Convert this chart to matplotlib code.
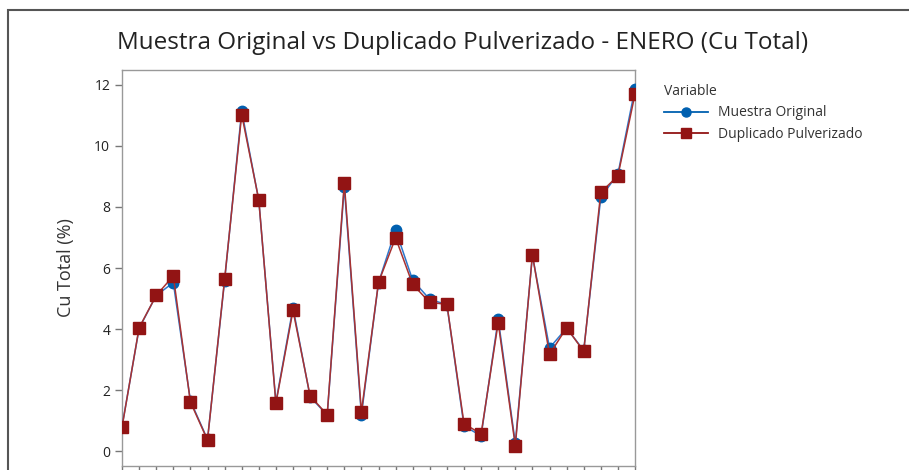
import numpy as np
import matplotlib.pyplot as plt
from matplotlib.lines import Line2D
from matplotlib.patches import Rectangle

plt.rcParams['font.family'] = ['Open Sans', 'DejaVu Sans']

# Data (31 samples, January)
muestra = [0.80, 4.02, 5.10, 5.52, 1.65, 0.38, 5.58, 11.15, 8.22, 1.60,
           4.70, 1.78, 1.18, 8.66, 1.18, 5.52, 7.25, 5.60, 4.97, 4.80,
           0.82, 0.50, 4.33, 0.26, 6.42, 3.38, 4.03, 3.30, 8.32, 9.08, 11.88]
duplicado = [0.78, 4.04, 5.10, 5.74, 1.61, 0.36, 5.63, 11.03, 8.23, 1.56,
             4.61, 1.81, 1.19, 8.79, 1.28, 5.53, 6.99, 5.46, 4.87, 4.81,
             0.90, 0.56, 4.21, 0.17, 6.43, 3.17, 4.04, 3.27, 8.48, 9.02, 11.70]
obs = np.arange(1, len(muestra) + 1)

blue = '#0060B0'
red = '#921414'

fig = plt.figure(figsize=(9.09, 4.70), dpi=100)
# outer frame of the graph window
fig.patches.append(Rectangle((8 / 909, -0.1), 1.1, (470 - 10) / 470 + 0.1,
                             transform=fig.transFigure, fill=False,
                             edgecolor='#555555', linewidth=1.5))

ax = fig.add_axes([122 / 909, (470 - 466) / 470, (635 - 122) / 909, (466 - 70) / 470])
ax.plot(obs, muestra, color='#2E78CC', lw=1.1, marker='o', ms=7.5,
        mfc=blue, mec=blue, zorder=3)
ax.plot(obs, duplicado, color='#A83232', lw=1.1, marker='s', ms=8,
        mfc=red, mec=red, zorder=4)

ax.set_xlim(1, 31)
ax.set_ylim(-0.49, 12.49)
ax.set_yticks([0, 2, 4, 6, 8, 10, 12])
ax.set_xticks(obs)
ax.set_xticklabels([])
for s in ax.spines.values():
    s.set_color('#999999')
    s.set_linewidth(1)
ax.tick_params(colors='#777777', labelcolor='#222222', labelsize=10, length=5, width=1)
ax.set_ylabel('Cu Total (%)', fontsize=13, color='#333333', labelpad=14)

fig.text(463 / 909, 1 - 43 / 470, 'Muestra Original vs Duplicado Pulverizado - ENERO (Cu Total)',
         ha='center', va='center', fontsize=17.5, color='#222222')

handles = [Line2D([], [], color=blue, marker='o', ms=6.5, lw=1.3),
           Line2D([], [], color=red, marker='s', ms=6.5, lw=1.3)]
leg = fig.legend(handles, ['Muestra Original', 'Duplicado Pulverizado'],
                 title='Variable', loc='upper left',
                 bbox_to_anchor=(658 / 909, 1 - 78 / 470), frameon=False,
                 fontsize=10, title_fontsize=10, handlelength=3.2,
                 handletextpad=0.7, labelspacing=0.45, borderaxespad=0)
leg._legend_box.align = 'left'
leg._legend_box.sep = 5
for t in leg.get_texts():
    t.set_color('#333333')
leg.get_title().set_color('#333333')

fig.savefig('out.png', dpi=100)
